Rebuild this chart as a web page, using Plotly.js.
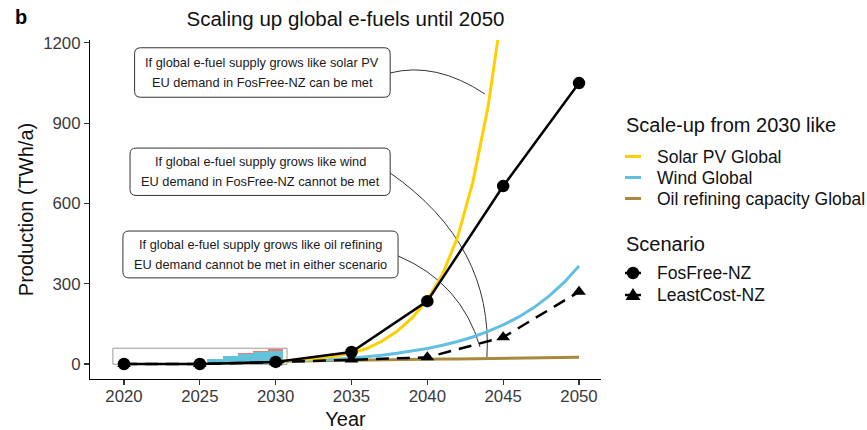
<!DOCTYPE html>
<html>
<head>
<meta charset="utf-8">
<script src="https://cdn.plot.ly/plotly-3.0.1.min.js"></script>
<style>
  html, body { margin: 0; padding: 0; background: #ffffff; }
  #chart { width: 867px; height: 430px; }
</style>
</head>
<body>
<div id="chart"></div>
<script>
// ---- Scenario demand for EU e-fuels (TWh/a) ----
const years = [2020, 2025, 2030, 2035, 2040, 2045, 2050];
const fosFreeNZ = [0, 0, 8, 45, 235, 665, 1050];
const leastCostNZ = [0, 0, 7, 17, 25, 100, 270];

// ---- Global e-fuel supply if scaled up from 2030 like other technologies (TWh/a) ----
const scaleYears = [2030, 2031, 2032, 2033, 2034, 2035, 2036, 2037, 2038, 2039, 2040,
                    2041, 2042, 2043, 2044, 2045, 2046, 2047, 2048, 2049, 2050];
const windGlobal = [9, 11, 13, 15, 18, 22, 27, 33, 40, 48, 58,
                    70, 84, 101, 122, 146, 175, 210, 253, 304, 366];
const oilRefiningGlobal = [10, 11, 12, 12.5, 13, 14, 15, 15.5, 16, 17, 18,
                           18.5, 19, 20, 20.5, 21, 22, 22.5, 23, 24, 25];
const solarYears = [2030, 2031, 2032, 2033, 2034, 2035, 2036, 2037,
                    2038, 2039, 2040, 2041, 2042, 2043, 2044, 2045];
const solarPVGlobal = [9, 12, 16, 22, 30, 41, 58, 85, 122, 172, 240, 335, 475, 680, 960, 1350];

// ---- Global e-fuel project pipeline (TWh/a) ----
const pipelineYears = [2026, 2027, 2028, 2029, 2030];
const pipelineBase = [19, 31, 39, 44, 49];
const pipelineExtra = [0, 0, 4, 4, 7];

// ---- Text ----
const chartTitle = 'Scaling up global e-fuels until 2050';
const xTitle = 'Year';
const yTitle = 'Production (TWh/a)';
const yTicks = [0, 300, 600, 900, 1200];
const scaleLegendTitle = 'Scale-up from 2030 like';
const scaleLabels = ['Solar PV Global', 'Wind Global', 'Oil refining capacity Global'];
const scenarioLegendTitle = 'Scenario';
const scenarioLabels = ['FosFree-NZ', 'LeastCost-NZ'];
const calloutLines = [
  ['If global e-fuel supply grows like solar PV', 'EU demand in FosFree-NZ can be met'],
  ['If global e-fuel supply grows like wind', 'EU demand in FosFree-NZ cannot be met'],
  ['If global e-fuel supply grows like oil refining', 'EU demand cannot be met in either scenario']
];

// ---- Styling ----
const FONT = 'Liberation Sans, Arial, Helvetica, sans-serif';
const colSolar = '#FFD000';
const colWind = '#62BEE3';
const colOil = '#A78A3D';
const colBarBase = '#63C3DA';
const colBarExtra = '#F07A6A';

const W = 867, H = 430;
const M = { l: 90, r: 266, t: 40, b: 51 };
const plotW = W - M.l - M.r;
const plotH = H - M.t - M.b;
// paper coordinates from page pixels (for the hand-built legend)
const PX = v => (v - M.l) / plotW;
const PY = v => (H - M.b - v) / plotH;

const xRange = [2017.76, 2051.45];
const yRange = [-56, 1211];

// callout boxes in data units: [x0, y0, x1, y1], and connector curves
const calloutBoxes = [
  [2020.70, 997, 2037.55, 1182],
  [2020.40, 630, 2037.55, 807],
  [2019.93, 322, 2038.07, 497]
];
const connectors = [
  { from: [2037.55, 1088], ctrl: [2040.57, 1131], to: [2043.80, 1009] },
  { from: [2037.55, 714], ctrl: [2044.36, 445], to: [2043.93, 26] },
  { from: [2038.07, 404], ctrl: [2042.22, 305], to: [2043.47, 64] }
];
// outline round the pipeline bars
const insetX = [2019.27, 2030.75];
const insetY = [-1, 59];

function roundRect(x0, y0, x1, y1, rx, ry) {
  return `M${x0 + rx},${y0} L${x1 - rx},${y0} Q${x1},${y0} ${x1},${y0 + ry} ` +
         `L${x1},${y1 - ry} Q${x1},${y1} ${x1 - rx},${y1} L${x0 + rx},${y1} ` +
         `Q${x0},${y1} ${x0},${y1 - ry} L${x0},${y0 + ry} Q${x0},${y0} ${x0 + rx},${y0} Z`;
}

const data = [
  { type: 'bar', x: pipelineYears, y: pipelineBase, width: 1,
    marker: { color: colBarBase, line: { width: 0 } }, showlegend: false, hoverinfo: 'skip' },
  { type: 'bar', x: pipelineYears, y: pipelineExtra, width: 1,
    marker: { color: colBarExtra, line: { width: 0 } }, showlegend: false, hoverinfo: 'skip' },
  { type: 'scatter', mode: 'lines', x: scaleYears, y: oilRefiningGlobal, name: scaleLabels[2],
    line: { color: colOil, width: 3 }, showlegend: false },
  { type: 'scatter', mode: 'lines', x: scaleYears, y: windGlobal, name: scaleLabels[1],
    line: { color: colWind, width: 3 }, showlegend: false },
  { type: 'scatter', mode: 'lines', x: solarYears, y: solarPVGlobal, name: scaleLabels[0],
    line: { color: colSolar, width: 3 }, showlegend: false },
  { type: 'scatter', mode: 'lines+markers', x: years, y: leastCostNZ, name: scenarioLabels[1],
    line: { color: '#000', width: 2.5, dash: '13px,8px' },
    marker: { symbol: 'triangle-up', size: 12, color: '#000' }, showlegend: false, cliponaxis: false },
  { type: 'scatter', mode: 'lines+markers', x: years, y: fosFreeNZ, name: scenarioLabels[0],
    line: { color: '#000', width: 2.5 },
    marker: { symbol: 'circle', size: 12.5, color: '#000' }, showlegend: false, cliponaxis: false }
];

const shapes = [];
const annotations = [];

// pipeline outline
shapes.push({ type: 'rect', xref: 'x', yref: 'y', layer: 'below',
  x0: insetX[0], x1: insetX[1], y0: insetY[0], y1: insetY[1],
  line: { color: '#9a9a9a', width: 1 }, fillcolor: 'rgba(0,0,0,0)' });

// connectors
connectors.forEach(c => {
  shapes.push({ type: 'path', xref: 'x', yref: 'y', layer: 'below',
    path: `M${c.from[0]},${c.from[1]} Q${c.ctrl[0]},${c.ctrl[1]} ${c.to[0]},${c.to[1]}`,
    line: { color: '#333333', width: 1 } });
});

// callout boxes and text
const rx = 0.4, ry = 22;
calloutBoxes.forEach((b, i) => {
  shapes.push({ type: 'path', xref: 'x', yref: 'y',
    path: roundRect(b[0], b[1], b[2], b[3], rx, ry),
    line: { color: '#333333', width: 1 }, fillcolor: '#ffffff' });
  const cx = (b[0] + b[2]) / 2;
  const cy = (b[1] + b[3]) / 2;
  const dy = 10 / 0.2675; // half line pitch
  calloutLines[i].forEach((t, j) => {
    annotations.push({ xref: 'x', yref: 'y', x: cx, y: j === 0 ? cy + dy : cy - dy,
      text: t, showarrow: false, xanchor: 'center', yanchor: 'middle',
      font: { family: FONT, size: 12.8, color: '#1a1a1a' } });
  });
});

// panel letter
annotations.push({ xref: 'paper', yref: 'paper', x: PX(13), y: PY(17), xanchor: 'left', yanchor: 'middle',
  text: '<b>b</b>', showarrow: false, font: { family: FONT, size: 20, color: '#000' } });

// legend: scale-up group
const legLeft = 624, swatch0 = 625, swatch1 = 641, labelX = 655;
const legendText = (t, x, y, size) => annotations.push({ xref: 'paper', yref: 'paper',
  x: PX(x), y: PY(y), xanchor: 'left', yanchor: 'middle', text: t, showarrow: false,
  font: { family: FONT, size: size, color: '#111' } });

legendText(scaleLegendTitle, legLeft, 125, 20);
const scaleColors = [colSolar, colWind, colOil];
const scaleRows = [156.5, 177.5, 198.5];
scaleLabels.forEach((lab, i) => {
  shapes.push({ type: 'line', xref: 'paper', yref: 'paper',
    x0: PX(swatch0), x1: PX(swatch1), y0: PY(scaleRows[i]), y1: PY(scaleRows[i]),
    line: { color: scaleColors[i], width: 3 } });
  legendText(lab, labelX, scaleRows[i], 17.5);
});

// legend: scenario group
legendText(scenarioLegendTitle, legLeft, 244, 20);
const scenRows = [273, 295];
scenarioLabels.forEach((lab, i) => {
  const yc = scenRows[i];
  shapes.push({ type: 'line', xref: 'paper', yref: 'paper',
    x0: PX(swatch0), x1: PX(swatch1), y0: PY(yc), y1: PY(yc),
    line: { color: '#000', width: 2.5 } });
  const mx = (swatch0 + swatch1) / 2;
  if (i === 0) {
    shapes.push({ type: 'circle', xref: 'paper', yref: 'paper',
      x0: PX(mx - 6.2), x1: PX(mx + 6.2), y0: PY(yc + 6.2), y1: PY(yc - 6.2),
      line: { width: 0 }, fillcolor: '#000' });
  } else {
    shapes.push({ type: 'path', xref: 'paper', yref: 'paper',
      path: `M${PX(mx)},${PY(yc - 7)} L${PX(mx + 7.5)},${PY(yc + 5)} L${PX(mx - 7.5)},${PY(yc + 5)} Z`,
      line: { width: 0 }, fillcolor: '#000' });
  }
  legendText(lab, labelX, yc, 17.5);
});

const axisCommon = {
  showline: true, linecolor: '#000', linewidth: 1.1, mirror: false,
  ticks: 'outside', ticklen: 5, tickwidth: 1.1, tickcolor: '#333',
  showgrid: false, zeroline: false, fixedrange: true,
  tickfont: { family: FONT, size: 16.8, color: '#3a3a3a' }
};

const layout = {
  width: W, height: H,
  margin: M,
  paper_bgcolor: '#ffffff', plot_bgcolor: '#ffffff',
  font: { family: FONT, color: '#111' },
  showlegend: false,
  barmode: 'stack', bargap: 0,
  title: { text: chartTitle, x: 0.5, xref: 'paper', xanchor: 'center',
    y: 1 - 19 / H, yref: 'container', yanchor: 'middle',
    font: { family: FONT, size: 20.5, color: '#111' } },
  xaxis: Object.assign({}, axisCommon, {
    range: xRange, tickmode: 'array', tickvals: years, ticklabelstandoff: -3,
    title: { text: xTitle, standoff: 9, font: { family: FONT, size: 20, color: '#111' } }
  }),
  yaxis: Object.assign({}, axisCommon, {
    range: yRange, tickmode: 'array', tickvals: yTicks,
    title: { text: yTitle, standoff: 4, font: { family: FONT, size: 20, color: '#111' } }
  }),
  shapes: shapes,
  annotations: annotations
};

Plotly.newPlot('chart', data, layout, { staticPlot: true, displayModeBar: false });
</script>
</body>
</html>
